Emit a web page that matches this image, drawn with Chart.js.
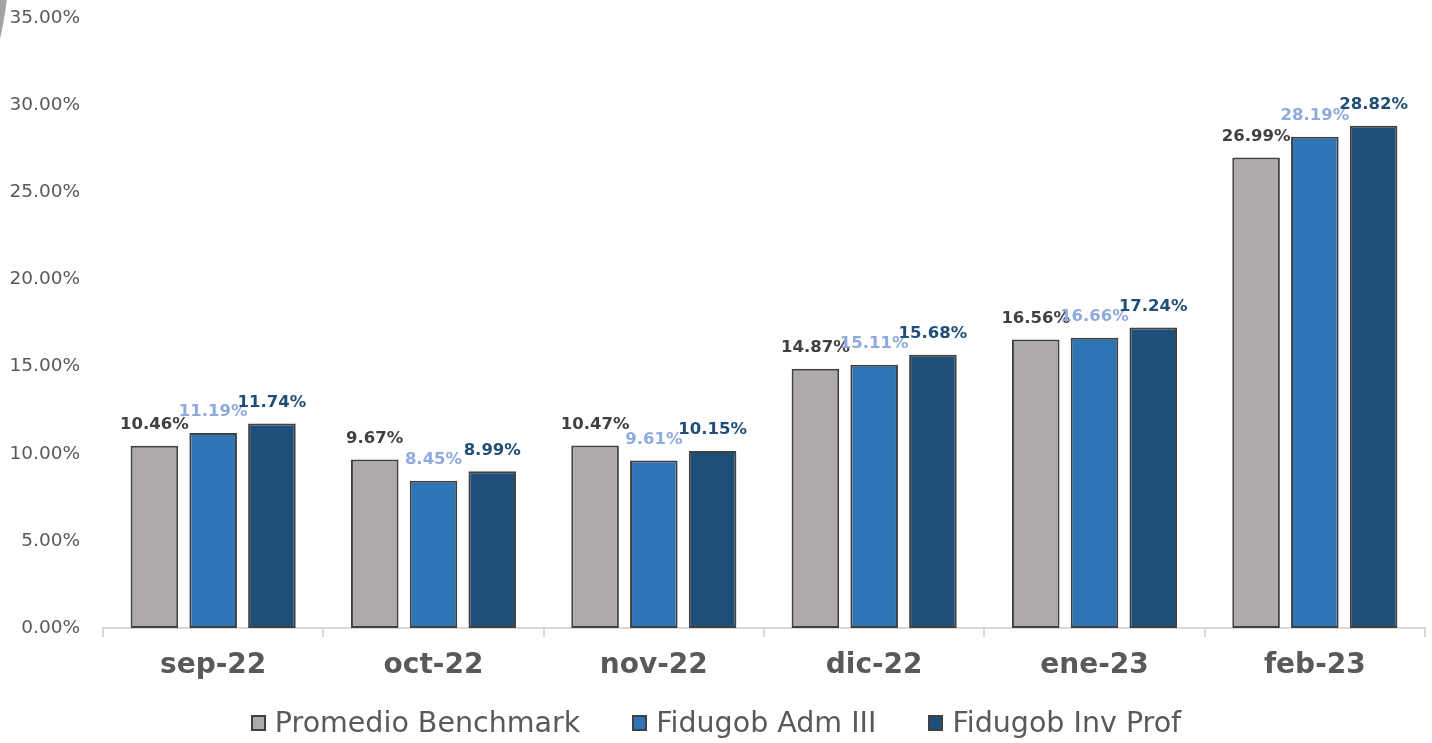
<!DOCTYPE html>
<html>
<head>
<meta charset="utf-8">
<script src="https://cdn.jsdelivr.net/npm/chart.js@4/dist/chart.umd.min.js"></script>
<style>
  html, body { margin: 0; padding: 0; background: #fff; overflow: hidden; }
  #wrap { position: relative; width: 1432px; height: 743px; overflow: hidden; }
  #corner { position: absolute; left: -790px; top: -450px; width: 800px; height: 800px; border-radius: 50%; background: #A3A3A3; }
  #legend { position: absolute; left: 0; right: 0; top: 706px; display: flex; justify-content: center; gap: 52px;
            font: 28.5px Verdana, "DejaVu Sans", sans-serif; color: #595959; }
  #legend .item { display: flex; align-items: center; }
  #legend .box { width: 11px; height: 12px; border: 2px solid #404040; margin-right: 9px; }
</style>
</head>
<body>
<div id="wrap">
  <div id="corner"></div>
  <canvas id="chartRent"></canvas>
  <div id="legend"></div>
</div>
<script>
// ── Rentabilidad mensual ──
const months = ['sep-22', 'oct-22', 'nov-22', 'dic-22', 'ene-23', 'feb-23'];
const benchmark = [10.46, 9.67, 10.47, 14.87, 16.56, 26.99];
const admIII = [11.19, 8.45, 9.61, 15.11, 16.66, 28.19];
const invProf = [11.74, 8.99, 10.15, 15.68, 17.24, 28.82];
const yTicks = [0, 5, 10, 15, 20, 25, 30, 35];

const FONT = 'Verdana, "DejaVu Sans", sans-serif';
const labelColors = ['#404040', '#8FAADC', '#1F4E79'];

// Draw value labels above each bar
const barLabels = {
  id: 'barLabels',
  afterDatasetsDraw(chart) {
    const ctx = chart.ctx;
    ctx.save();
    ctx.font = 'bold 16.5px ' + FONT;
    ctx.textAlign = 'center';
    ctx.textBaseline = 'middle';
    chart.data.datasets.forEach((ds, i) => {
      const meta = chart.getDatasetMeta(i);
      ctx.fillStyle = labelColors[i];
      meta.data.forEach((bar, j) => {
        ctx.fillText(ds.data[j].toFixed(2) + '%', bar.x, bar.y - 21);
      });
    });
    ctx.restore();
  }
};

const mk = (label, data, color) => ({
  label,
  data,
  backgroundColor: color,
  borderColor: '#404040',
  borderWidth: 2,
  borderSkipped: false,
  categoryPercentage: 0.8,
  barPercentage: 0.81
});

const chart = new Chart(document.getElementById('chartRent'), {
  type: 'bar',
  data: {
    labels: months,
    datasets: [
      mk('Promedio Benchmark', benchmark, '#AEAAAA'),
      mk('Fidugob Adm III', admIII, '#2E75B6'),
      mk('Fidugob Inv Prof', invProf, '#1F4E79')
    ]
  },
  options: {
    responsive: true,
    maintainAspectRatio: false,
    animation: false,
    layout: { padding: { top: 18, right: 7, left: 0, bottom: 0 } },
    plugins: {
      legend: { display: false },
      tooltip: { enabled: false }
    },
    scales: {
      x: {
        grid: {
          display: true,
          offset: true,
          drawOnChartArea: false,
          drawTicks: true,
          tickLength: 9,
          color: '#D9D9D9',
          lineWidth: 2
        },
        border: { display: true, color: '#D9D9D9', width: 2 },
        ticks: {
          color: '#595959',
          font: { size: 28, weight: 'bold', family: FONT },
          padding: 12
        },
        afterFit: (scale) => { scale.height = 115; }
      },
      y: {
        min: 0,
        max: 35,
        afterBuildTicks: (scale) => { scale.ticks = yTicks.map(v => ({ value: v })); },
        grid: { display: false },
        border: { display: false },
        ticks: {
          color: '#595959',
          font: { size: 18.5, family: FONT },
          padding: 15,
          callback: (v) => v.toFixed(2) + '%'
        },
        afterFit: (scale) => { scale.width = 103; scale.paddingTop = 0; }
      }
    }
  },
  plugins: [barLabels]
});

// HTML legend built from the datasets
const legendEl = document.getElementById('legend');
chart.data.datasets.forEach(ds => {
  const item = document.createElement('div');
  item.className = 'item';
  item.innerHTML = `<span class="box" style="background:${ds.backgroundColor}"></span><span>${ds.label}</span>`;
  legendEl.appendChild(item);
});
</script>
</body>
</html>
